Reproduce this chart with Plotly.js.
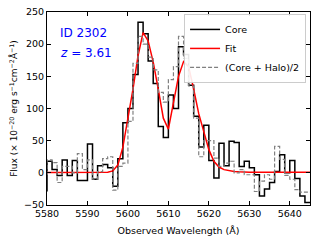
<!DOCTYPE html>
<html>
<head>
<meta charset="utf-8">
<script src="https://cdn.plot.ly/plotly-3.0.1.min.js"></script>
<style>html,body{margin:0;padding:0;background:#fff;}#chart{width:316px;height:246px;}</style>
</head>
<body>
<div id="chart"></div>
<script>
// Wavelength grid (left bin edges, Angstrom)
const wave = [5578.75,5580,5581.25,5582.5,5583.75,5585,5586.25,5587.5,5588.75,5590,5591.25,5592.5,5593.75,5595,5596.25,5597.5,5598.75,5600,5601.25,5602.5,5603.75,5605,5606.25,5607.5,5608.75,5610,5611.25,5612.5,5613.75,5615,5616.25,5617.5,5618.75,5620,5621.25,5622.5,5623.75,5625,5626.25,5627.5,5628.75,5630,5631.25,5632.5,5633.75,5635,5636.25,5637.5,5638.75,5640,5641.25,5642.5,5643.75,5645];
// Core flux
const core = [-28,18,5,-4,20,-4,19,-12,-12,45,-10,11,13,8,-21,22,78,100,153,234,216,174,139,72,55,121,100,196,184,136,88,40,74,19,-8,46,11,49,47,10,18,8,-3,-36,-25,-15,2,28,0,19,-9,-36,-46,-46];
// (Core + Halo)/2
const halo = [-5,20,16,-15,10,10,0,30,5,20,-10,2,22,25,-27,10,15,80,170,212,200,180,160,125,110,145,165,212,178,135,85,25,50,50,23,10,15,18,0,5,-3,-3,-29,-13,-3,-10,41,21,-4,-10,-26,-30,-30,-30];
// Fit
const fitWave = [5580,5581.25,5582.5,5583.75,5585,5586.25,5587.5,5588.75,5590,5591.25,5592.5,5593.75,5595,5596.25,5597.5,5598.75,5600,5601.25,5602.5,5603.75,5605,5606.25,5607.5,5608.75,5610,5611.25,5612.5,5613.75,5615,5616.25,5617.5,5618.75,5620,5621.25,5622.5,5623.75,5625,5626.25,5627.5,5628.75,5630,5632.5,5635,5637.5,5640,5642.5,5645];
const fit = [0.5,0.5,0.5,0.5,0.5,0.5,0.5,0.5,0.5,0.5,0.5,0.5,1,3,12,40,85,130,182,218,205,172,130,85,68,108,150,173,165,130,92,64,36,18,9,5,3,2,1.5,1,1,1,1,1,1,1,1];

const xTicks = [5580,5590,5600,5610,5620,5630,5640];
const yTicks = [-50,0,50,100,150,200,250];

const font = {family: 'DejaVu Sans, sans-serif', size: 9.5, color: '#000'};

const traces = [
  {x: wave, y: core, mode: 'lines', name: 'Core', line: {color: '#000', width: 1.5, shape: 'hv'}},
  {x: fitWave, y: fit, mode: 'lines', name: 'Fit', line: {color: '#ff0000', width: 1.5}},
  {x: wave, y: halo, mode: 'lines', name: '(Core + Halo)/2', line: {color: '#808080', width: 1.2, shape: 'hv', dash: '4px,2px'}}
];

const axisCommon = {
  showline: true, mirror: 'ticks', linecolor: '#000', linewidth: 1,
  ticks: 'inside', ticklen: 4, tickwidth: 1, tickcolor: '#000',
  showgrid: false, zeroline: false, tickfont: font
};

const layout = {
  width: 316, height: 246,
  margin: {l: 47, r: 6, t: 12, b: 41},
  paper_bgcolor: '#fff', plot_bgcolor: '#fff',
  font: font,
  showlegend: true,
  legend: {x: 0.985, y: 0.99, xanchor: 'right', yanchor: 'top', bgcolor: 'rgba(255,255,255,0.9)',
           bordercolor: '#cccccc', borderwidth: 1, font: {family: 'DejaVu Sans, sans-serif', size: 9.5},
           itemwidth: 30, tracegroupgap: 0},
  xaxis: Object.assign({}, axisCommon, {range: [5580, 5645], tickvals: xTicks,
    title: {text: 'Observed Wavelength (Å)', font: {family: 'DejaVu Sans, sans-serif', size: 9.5}, standoff: 8}}),
  yaxis: Object.assign({}, axisCommon, {range: [-50, 250], tickvals: yTicks,
    title: {text: 'Flux (× 10<sup>−20</sup> erg s<sup>−1</sup>cm<sup>−2</sup>Å<sup>−1</sup>)', font: {family: 'DejaVu Sans, sans-serif', size: 9}, standoff: 4}}),
  annotations: [
    {xref: 'paper', yref: 'paper', x: 0.04, y: 0.89, xanchor: 'left', yanchor: 'middle', showarrow: false,
     text: 'ID 2302', font: {family: 'DejaVu Sans, sans-serif', size: 12, color: '#0000ff'}},
    {xref: 'paper', yref: 'paper', x: 0.04, y: 0.79, xanchor: 'left', yanchor: 'middle', showarrow: false,
     text: '<i>z</i> = 3.61', font: {family: 'DejaVu Sans, sans-serif', size: 12, color: '#0000ff'}}
  ]
};

Plotly.newPlot('chart', traces, layout, {displayModeBar: false, staticPlot: true});
</script>
</body>
</html>
